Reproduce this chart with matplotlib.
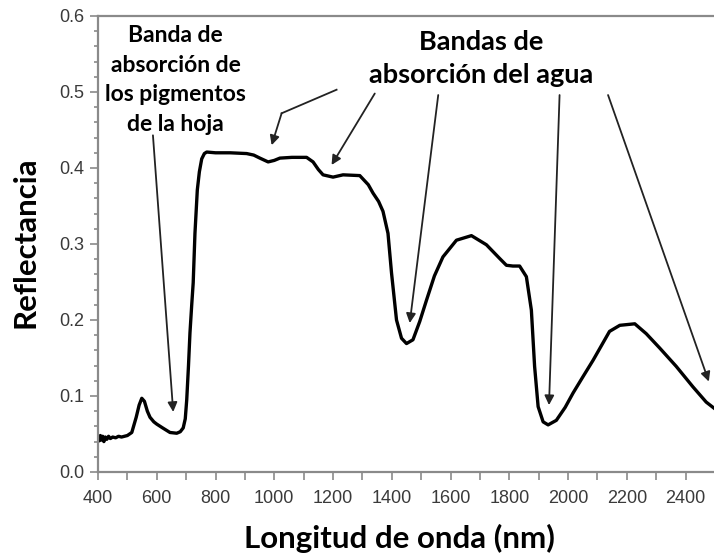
import numpy as np
import matplotlib.pyplot as plt
from matplotlib.ticker import MultipleLocator

# wavelength (nm) and reflectance
wavelength = [400, 404, 408, 412, 416, 420, 425, 430, 436, 442, 450, 460, 470, 480, 490,
              500, 515, 530, 540, 549, 558, 568, 577, 590, 600, 620, 645, 668, 680,
              690, 697, 702, 708, 713, 719, 724, 730, 738, 745, 753, 762, 770, 800,
              850, 906, 930, 951, 979, 1000, 1019, 1060, 1110, 1132, 1150, 1166, 1200,
              1234, 1291, 1320, 1336, 1355, 1370, 1387, 1399, 1416, 1433, 1450, 1472,
              1495, 1518, 1545, 1574, 1620, 1671, 1722, 1767, 1790, 1812, 1835, 1858,
              1875, 1886, 1898, 1915, 1932, 1960, 1990, 2017, 2050, 2085, 2141, 2176,
              2227, 2266, 2312, 2368, 2425, 2470, 2500]
reflectance = [0.045, 0.041, 0.048, 0.042, 0.047, 0.040, 0.046, 0.043, 0.047, 0.044, 0.046,
               0.045, 0.047, 0.046, 0.047, 0.048, 0.052, 0.072, 0.088, 0.097, 0.093, 0.080,
               0.072, 0.066, 0.063, 0.058, 0.052, 0.051, 0.053, 0.058, 0.070, 0.095, 0.140,
               0.183, 0.220, 0.249, 0.314, 0.371, 0.395, 0.412, 0.419, 0.421, 0.420, 0.420,
               0.419, 0.417, 0.413, 0.408, 0.410, 0.413, 0.414, 0.414, 0.408, 0.398, 0.391,
               0.388, 0.391, 0.390, 0.378, 0.367, 0.356, 0.343, 0.314, 0.262, 0.200, 0.176,
               0.169, 0.174, 0.198, 0.226, 0.258, 0.283, 0.305, 0.311, 0.299, 0.281, 0.272,
               0.271, 0.271, 0.257, 0.213, 0.139, 0.086, 0.066, 0.062, 0.068, 0.085, 0.104,
               0.125, 0.147, 0.185, 0.193, 0.195, 0.182, 0.163, 0.139, 0.112, 0.092, 0.083]

label_font = 'Lato'
gray = '#8a8a8a'

fig = plt.figure(figsize=(7.14, 5.58), dpi=100)
ax = fig.add_axes([98 / 714, 1 - 472 / 558, 617 / 714, 456 / 558])

ax.plot(wavelength, reflectance, color='black', lw=2.4, solid_joinstyle='round')

ax.set_xlim(400, 2500)
ax.set_ylim(0, 0.6)
ax.xaxis.set_major_locator(MultipleLocator(200))
ax.xaxis.set_minor_locator(MultipleLocator(100))
ax.yaxis.set_major_locator(MultipleLocator(0.1))
ax.yaxis.set_minor_locator(MultipleLocator(0.02))
ax.yaxis.set_major_formatter(plt.FuncFormatter(lambda v, p: f'{v:.1f}'))
ax.tick_params(which='both', direction='out', color=gray, width=1.2)
ax.tick_params(axis='x', which='both', length=6, labelsize=13, labelcolor='#3a3a3a', pad=7)
ax.tick_params(axis='y', which='major', length=6, labelsize=13, labelcolor='#3a3a3a', pad=4)
ax.tick_params(axis='y', which='minor', length=3)
for lab in ax.get_xticklabels() + ax.get_yticklabels():
    lab.set_family('Liberation Sans')
for side in ['left', 'bottom', 'top']:
    ax.spines[side].set_color(gray)
    ax.spines[side].set_linewidth(1.6)
ax.spines['right'].set_visible(False)

arrow = dict(arrowstyle='-|>', color='#222222', lw=1.3, mutation_scale=14, shrinkA=0, shrinkB=0)

# pigment absorption band
ax.text(665, 0.588, 'Banda de\nabsorción de\nlos pigmentos\nde la hoja', ha='center', va='top',
        fontsize=16.5, fontweight='bold', family=label_font, linespacing=1.5)
ax.annotate('', xy=(656, 0.079), xytext=(587, 0.443), arrowprops=arrow)

# water absorption bands
ax.text(1703, 0.582, 'Bandas de\nabsorción del agua', ha='center', va='top',
        fontsize=19.5, fontweight='bold', family=label_font, linespacing=1.45)
ax.plot([1212, 1025], [0.503, 0.472], color='#222222', lw=1.3)
ax.annotate('', xy=(991, 0.430), xytext=(1025, 0.472), arrowprops=arrow)
ax.annotate('', xy=(1195, 0.404), xytext=(1342, 0.498), arrowprops=arrow)
ax.annotate('', xy=(1461, 0.196), xytext=(1558, 0.496), arrowprops=arrow)
ax.annotate('', xy=(1935, 0.088), xytext=(1971, 0.496), arrowprops=arrow)
ax.annotate('', xy=(2479, 0.119), xytext=(2136, 0.496), arrowprops=arrow)

fig.text(399 / 714, 1 - 538 / 558, 'Longitud de onda (nm)', ha='center', va='center',
         fontsize=22.5, fontweight='bold', family=label_font)
fig.text(26 / 714, 1 - 242 / 558, 'Reflectancia', ha='center', va='center', rotation=90,
         fontsize=22.5, fontweight='bold', family=label_font)

fig.savefig('out.png', dpi=100)
